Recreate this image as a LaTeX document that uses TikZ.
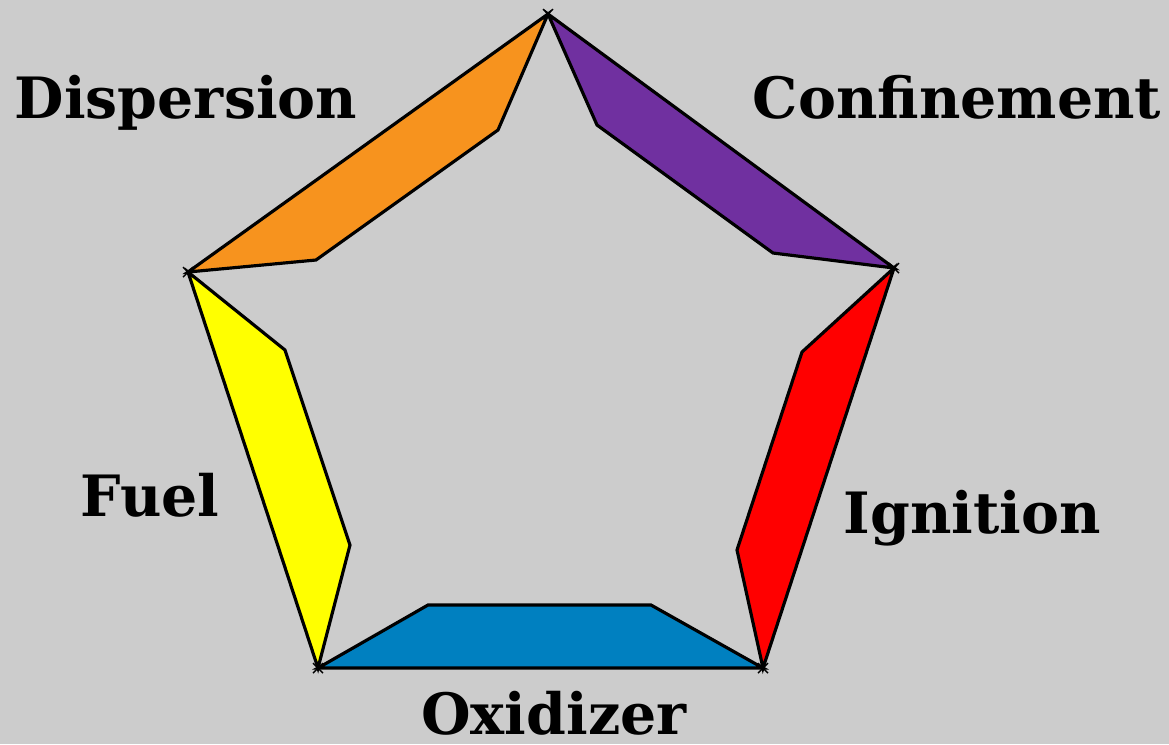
\documentclass[tikz,border=0pt]{standalone}
\usepackage{fontspec}
\setmainfont{DejaVu Serif}
\usetikzlibrary{calc}
\definecolor{bggray}{HTML}{CCCCCC}
\definecolor{dispcol}{HTML}{F7931E}
\definecolor{confcol}{HTML}{7030A0}
\definecolor{igncol}{HTML}{FF0000}
\definecolor{oxicol}{HTML}{0080C0}
\definecolor{fuelcol}{HTML}{FFFF00}
\tikzset{
  side/.style={draw=black,line width=0.9pt,line join=miter},
  lbl/.style={font=\bfseries\fontsize{16.2}{19}\selectfont,anchor=base,inner sep=0pt},
  vmark/.style={draw=black,line width=0.4pt}
}
\begin{document}
\begin{tikzpicture}[x=0.01cm,y=-0.01cm]
  \fill[bggray] (0,0) rectangle (1169,744);
  \useasboundingbox (0,0) rectangle (1169,744);

  % corners of the pentagon
  \coordinate (top) at (548,14);
  \coordinate (rgt) at (894,268);
  \coordinate (brt) at (763,668);
  \coordinate (blf) at (318,668);
  \coordinate (lft) at (188,272);

  \draw[side,fill=dispcol] (top) -- (lft) -- (316,260) -- (498,130) -- cycle;
  \draw[side,fill=confcol] (top) -- (rgt) -- (773,253) -- (597,125) -- cycle;
  \draw[side,fill=igncol]  (rgt) -- (brt) -- (737,550) -- (802,352) -- cycle;
  \draw[side,fill=oxicol]  (blf) -- (brt) -- (651,605) -- (428,605) -- cycle;
  \draw[side,fill=fuelcol] (lft) -- (blf) -- (350,545) -- (285,350) -- cycle;

  \foreach \c in {top,rgt,brt,blf,lft}
    \draw[vmark] ($(\c)+(-5,-5)$) -- ($(\c)+(5,5)$) ($(\c)+(-5,5)$) -- ($(\c)+(5,-5)$);

  \node[lbl] (disp) at (186,118) {Dispersion};
  \node[lbl] (conf) at (957,118) {Confinement};
  \node[lbl] (ign)  at (972,533) {Ignition};
  \node[lbl] (fuel) at (150,516) {Fuel};
  \node[lbl,text depth=0pt] (oxi) at (554,734) {Oxidizer};
\end{tikzpicture}
\end{document}
